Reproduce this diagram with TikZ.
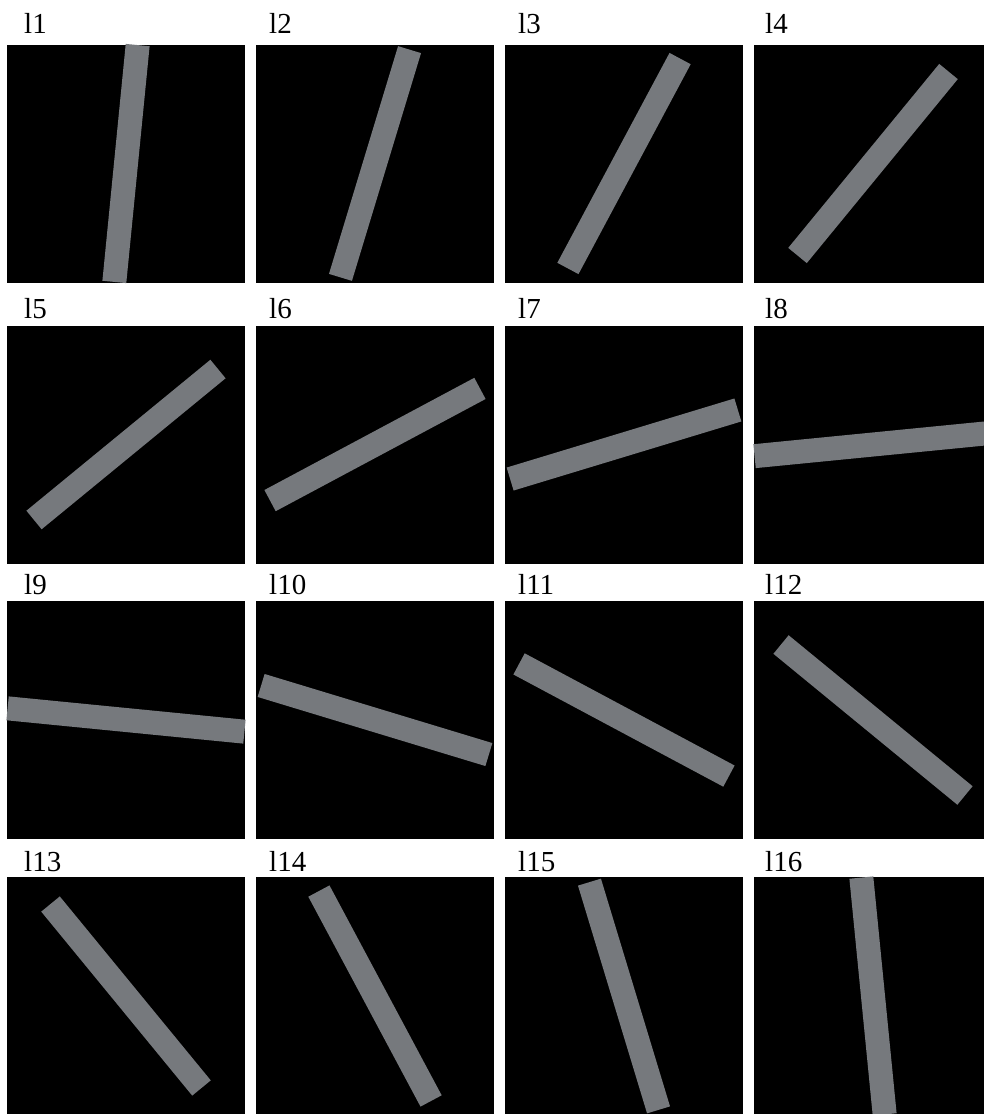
\documentclass[tikz,border=0pt]{standalone}
\usepackage{fontspec}
\setmainfont{Liberation Serif}
\definecolor{bargray}{RGB}{118,121,125}

\begin{document}
\begin{tikzpicture}[x=1pt,y=-1pt,
  panel/.style={fill=black,minimum width=238pt,minimum height=238pt,inner sep=0pt},
  bar/.style={fill=bargray,minimum width=238pt,minimum height=24pt,inner sep=0pt},
  lbl/.style={anchor=base west,inner sep=0pt,font=\fontsize{29}{30}\selectfont}]

\useasboundingbox (0,0) rectangle (984,1114);
\fill[white] (0,0) rectangle (984,1114);

% Row 1
\node[panel] (p1) at (126,163.5) {};
\node[bar,rotate=84.375] (b1) at (p1) {};
\node[lbl] (l1) at (24,33) {l1};

\node[panel] (p2) at (375,163.5) {};
\node[bar,rotate=73.125] (b2) at (p2) {};
\node[lbl] (l2) at (269,33) {l2};

\node[panel] (p3) at (624,163.5) {};
\node[bar,rotate=61.875] (b3) at (p3) {};
\node[lbl] (l3) at (518,33) {l3};

\node[panel] (p4) at (873,163.5) {};
\node[bar,rotate=50.625] (b4) at (p4) {};
\node[lbl] (l4) at (765,33) {l4};

% Row 2
\node[panel] (p5) at (126,444.5) {};
\node[bar,rotate=39.375] (b5) at (p5) {};
\node[lbl] (l5) at (24,318) {l5};

\node[panel] (p6) at (375,444.5) {};
\node[bar,rotate=28.125] (b6) at (p6) {};
\node[lbl] (l6) at (269,318) {l6};

\node[panel] (p7) at (624,444.5) {};
\node[bar,rotate=16.875] (b7) at (p7) {};
\node[lbl] (l7) at (518,318) {l7};

\node[panel] (p8) at (873,444.5) {};
\node[bar,rotate=5.625] (b8) at (p8) {};
\node[lbl] (l8) at (765,318) {l8};

% Row 3
\node[panel] (p9) at (126,720) {};
\node[bar,rotate=-5.625] (b9) at (p9) {};
\node[lbl] (l9) at (24,594) {l9};

\node[panel] (p10) at (375,720) {};
\node[bar,rotate=-16.875] (b10) at (p10) {};
\node[lbl] (l10) at (269,594) {l10};

\node[panel] (p11) at (624,720) {};
\node[bar,rotate=-28.125] (b11) at (p11) {};
\node[lbl] (l11) at (518,594) {l11};

\node[panel] (p12) at (873,720) {};
\node[bar,rotate=-39.375] (b12) at (p12) {};
\node[lbl] (l12) at (765,594) {l12};

% Row 4
\node[panel] (p13) at (126,996) {};
\node[bar,rotate=-50.625] (b13) at (p13) {};
\node[lbl] (l13) at (24,871) {l13};

\node[panel] (p14) at (375,996) {};
\node[bar,rotate=-61.875] (b14) at (p14) {};
\node[lbl] (l14) at (269,871) {l14};

\node[panel] (p15) at (624,996) {};
\node[bar,rotate=-73.125] (b15) at (p15) {};
\node[lbl] (l15) at (518,871) {l15};

\node[panel] (p16) at (873,996) {};
\node[bar,rotate=-84.375] (b16) at (p16) {};
\node[lbl] (l16) at (765,871) {l16};

\end{tikzpicture}
\end{document}
